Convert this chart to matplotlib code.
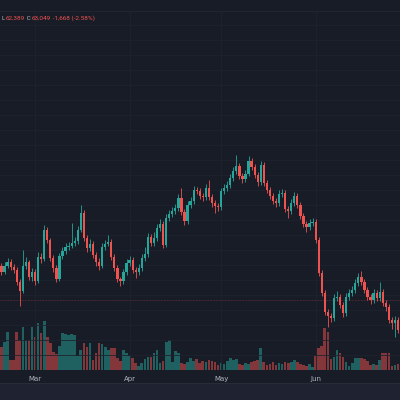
import matplotlib
matplotlib.use('Agg')
import matplotlib.pyplot as plt
import pandas as pd

# daily candles, 19 Feb - 28 Jun
start_date = '2024-02-19'
first_open = 68900
closes = [68300, 68900, 69300, 68800, 68500, 67300, 66400, 68900, 69300, 67800,
          68300, 67400, 69800, 69600, 72500, 71500, 69700, 68700, 67600, 69900,
          70400, 70800, 70900, 71200, 71400, 72500, 74200, 71700, 70700, 71100,
          70000, 69300, 68900, 70800, 71100, 71300, 69800, 68700, 67600, 67400,
          68300, 69200, 69500, 68500, 68300, 68700, 69700, 70100, 71800, 71200,
          71700, 72700, 73100, 71000, 73700, 74100, 74400, 74700, 75700, 74300,
          73400, 75000, 75400, 76500, 76400, 75900, 75800, 76700, 75800, 75200,
          74900, 74800, 76400, 76700, 77000, 77700, 78400, 78900, 77900, 77600,
          78100, 79400, 78800, 78000, 77300, 79000, 77200, 76500, 75900, 75400,
          75200, 76100, 76200, 74600, 74400, 75200, 75900, 75000, 73900, 73100,
          72800, 73200, 73300, 71500, 68200, 66200, 64300, 63900, 63700, 65700,
          65800, 65000, 64200, 65800, 66200, 66500, 67200, 67800, 67300, 66500,
          65800, 65500, 66200, 65700, 66300, 65200, 64800, 63500, 63200, 63500,
          62500]
highs = [69200, 69300, 69700, 69600, 69100, 68800, 67600, 70500, 69800, 69500,
         68700, 68600, 70300, 70200, 73000, 72800, 71700, 70000, 69000, 70200,
         70800, 71200, 71300, 73200, 71800, 72900, 75000, 74500, 72000, 71600,
         71400, 70300, 69700, 71200, 71500, 72000, 71600, 70100, 69000, 67800,
         68600, 69600, 69900, 69800, 68800, 69100, 70100, 70800, 72200, 72100,
         72300, 73100, 73600, 73400, 74100, 74500, 74800, 75100, 76100, 76700,
         74600, 75400, 75800, 76900, 76800, 76700, 76200, 77100, 77500, 76100,
         75500, 75200, 76700, 77100, 77400, 78100, 78800, 80000, 79200, 78200,
         78500, 79900, 79700, 79100, 78300, 79400, 79300, 77500, 76800, 76200,
         75700, 76500, 76600, 76500, 74900, 75600, 76300, 76200, 75300, 74200,
         73400, 73600, 73700, 73600, 71800, 68500, 66500, 64600, 64200, 66100,
         66400, 66100, 65300, 66200, 66600, 66900, 67600, 68200, 68400, 67600,
         66800, 66100, 66600, 66500, 67300, 66600, 65500, 65100, 63800, 63900,
         63800]
lows = [68000, 68100, 68700, 68500, 68200, 67000, 64900, 66200, 68600, 67500,
        67400, 67000, 67200, 69200, 69400, 71200, 69400, 68300, 67300, 67400,
        69600, 70100, 70500, 70700, 70900, 71100, 72300, 71400, 70300, 70400,
        69700, 68900, 68500, 68700, 70500, 70900, 69500, 68400, 67300, 66900,
        67100, 68000, 68900, 68200, 67700, 68000, 68400, 69400, 69800, 70900,
        70900, 71400, 72400, 70700, 70800, 73400, 73800, 74100, 74400, 74000,
        73000, 73100, 74700, 75100, 76100, 75600, 75400, 75500, 75500, 74800,
        74200, 74400, 74500, 76100, 76400, 76700, 77400, 78100, 77600, 77200,
        77300, 77900, 78500, 77700, 76900, 77000, 76900, 76200, 75600, 75100,
        74800, 74900, 75800, 74300, 73700, 74100, 74900, 74700, 73600, 72800,
        72300, 72500, 72900, 71200, 67900, 65900, 64000, 62800, 63300, 63400,
        65400, 64700, 63800, 63900, 65500, 65900, 66200, 66900, 67000, 66200,
        65500, 65100, 65200, 65400, 65400, 64900, 64400, 63200, 62600, 61800,
        62200]
volumes = [23, 28, 38, 10, 10, 38, 30, 43, 30, 30, 43, 33, 47, 37, 49, 33, 27, 18,
           16, 24, 37, 36, 35, 36, 35, 14, 20, 27, 23, 27, 10, 17, 27, 26, 23, 20,
           22, 22, 12, 9, 20, 17, 14, 12, 7, 4, 7, 11, 13, 13, 17, 20, 7, 9, 28,
           30, 8, 19, 17, 7, 6, 8, 12, 9, 11, 7, 9, 8, 10, 9, 8, 5, 7, 6, 9, 12,
           10, 11, 6, 5, 7, 6, 8, 9, 10, 22, 8, 5, 6, 8, 5, 7, 6, 8, 7, 8, 10, 8,
           6, 5, 4, 6, 3, 14, 22, 24, 42, 38, 11, 13, 20, 17, 13, 8, 4, 7, 12, 12,
           12, 11, 9, 5, 6, 5, 10, 17, 17, 17, 4, 5, 6]
last_line = 65500
header = [('L', '#b2b5be'), ('62,389', '#ef5350'), (' C', '#b2b5be'),
          ('63,049', '#ef5350'), (' -1,668 (-2.58%)', '#ef5350')]

bg = '#181c27'
up = '#26a69a'
down = '#ef5350'
grid = '#1f2330'

opens = [first_open] + closes[:-1]
n = len(closes)
dates = pd.date_range(start_date, periods=n)
idx = list(range(n))
cols = [up if c >= o else down for o, c in zip(opens, closes)]

fig = plt.figure(figsize=(4, 4), dpi=100, facecolor=bg)
rect = [0, 30 / 400, 1, 358 / 400]

# volume underneath
axv = fig.add_axes(rect, zorder=0)
axv.set_facecolor(bg)
axv.bar(idx, volumes, width=0.86, color=cols, alpha=0.5, linewidth=0)
axv.set_ylim(0, 358)
axv.set_xlim(-0.49, 130.66)
axv.axis('off')

ax = fig.add_axes(rect, zorder=1)
ax.patch.set_alpha(0)
for y in range(58500, 94500, 1500):
    ax.axhline(y, color=grid, lw=0.6, zorder=0)
month_idx = [i for i, d in enumerate(dates) if d.day == 1]
for i in month_idx:
    ax.axvline(i, color=grid, lw=0.6, zorder=0)
ax.axhline(last_line, color=down, lw=0.5, ls=(0, (1, 1.2)), alpha=0.45, zorder=1)

ax.vlines(idx, lows, highs, colors=cols, lw=0.6, zorder=2)
bottoms = [min(o, c) for o, c in zip(opens, closes)]
heights = [max(abs(c - o), 60) for o, c in zip(opens, closes)]
ax.bar(idx, heights, bottom=bottoms, width=0.74, color=cols, linewidth=0, zorder=3)

ax.set_xlim(-0.49, 130.66)
ax.set_ylim(58500, 94300)
ax.set_yticks([])
ax.set_xticks(month_idx)
ax.set_xticklabels([dates[i].strftime('%b') for i in month_idx])
ax.tick_params(axis='x', length=0, pad=4, labelsize=5, labelcolor='#b2b5be')
for s in ax.spines.values():
    s.set_visible(False)

# lower strip and top strip
fig.patches.append(plt.Rectangle((0, 0), 1, 17 / 400, transform=fig.transFigure,
                                 facecolor='#1f2230', edgecolor='none', zorder=-1))
fig.add_artist(plt.Line2D([0, 1], [17 / 400, 17 / 400], color='#2a2e39', lw=0.6))
fig.add_artist(plt.Line2D([0, 1], [1 - 11 / 400, 1 - 11 / 400], color='#222633', lw=0.6))

# header (OHLC legend)
r = fig.canvas.get_renderer()
x = 2
for txt, c in header:
    t = fig.text(x / 400, 1 - 18 / 400, txt, color=c, fontsize=4.6,
                 family=['Roboto', 'DejaVu Sans'], va='center', ha='left')
    x = t.get_window_extent(r).x1 + 0.3

fig.savefig('out.png', dpi=100, facecolor=bg)
